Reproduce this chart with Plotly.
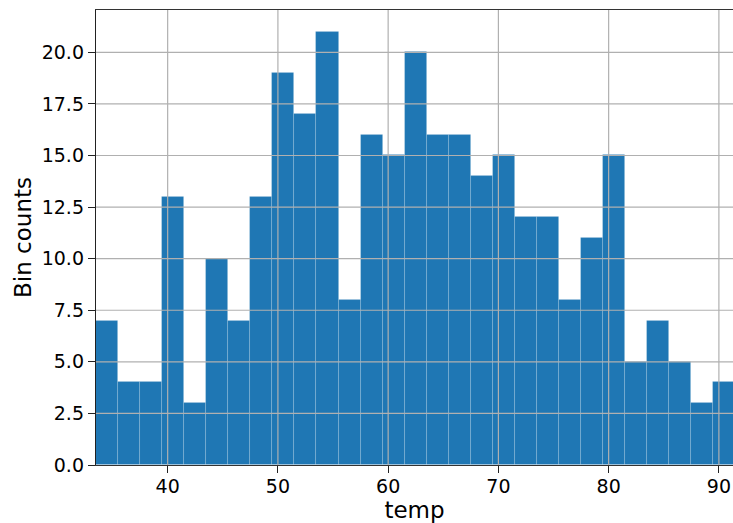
import plotly.graph_objects as go

bin_start = 33.5
bin_width = 2.0
counts = [7, 4, 4, 13, 3, 10, 7, 13, 19, 17, 21, 8, 16, 15, 20, 16, 16, 14, 15,
          12, 12, 8, 11, 15, 5, 7, 5, 3, 4]
centers = [bin_start + bin_width * (i + 0.5) for i in range(len(counts))]

x_ticks = [40, 50, 60, 70, 80, 90]
y_ticks = [0.0, 2.5, 5.0, 7.5, 10.0, 12.5, 15.0, 17.5, 20.0]
x_range = [33.5, 91.28]
y_range = [0, 22.05]

fig = go.Figure()
fig.add_trace(go.Bar(
    x=centers, y=counts, width=bin_width,
    marker=dict(color="#1f77b4", line=dict(color="rgba(255,255,255,0.18)", width=0.8)),
    showlegend=False,
))

grid_color = "#b0b0b0"
shapes = []
for t in x_ticks:
    shapes.append(dict(type="line", xref="x", yref="paper", x0=t, x1=t, y0=0, y1=1,
                       line=dict(color=grid_color, width=1.2), layer="above"))
for t in y_ticks[1:]:
    shapes.append(dict(type="line", xref="paper", yref="y", x0=0, x1=1, y0=t, y1=t,
                       line=dict(color=grid_color, width=1.2), layer="above"))

font = "DejaVu Sans"
fig.update_layout(
    width=733, height=523,
    margin=dict(l=96, r=0, t=10, b=58, autoexpand=False),
    plot_bgcolor="white", paper_bgcolor="white",
    shapes=shapes,
    bargap=0,
    font=dict(family=font, color="black"),
    xaxis=dict(
        range=x_range, tickvals=x_ticks, showgrid=False, zeroline=False,
        showline=True, linecolor="#333", linewidth=1.4, mirror=True,
        ticks="outside", ticklen=7, tickwidth=1.2, tickcolor="#222",
        tickfont=dict(size=19, family=font), automargin=False, ticklabelstandoff=-3,
        title=dict(text="temp", font=dict(size=23, family=font), standoff=9),
        layer="above traces",
    ),
    yaxis=dict(
        range=y_range, tickvals=y_ticks, tickformat=".1f", showgrid=False, zeroline=False,
        showline=True, linecolor="#222", linewidth=1.4,
        ticks="outside", ticklen=7, tickwidth=1.2, tickcolor="#222",
        tickfont=dict(size=19, family=font), automargin=False,
        title=dict(text="Bin counts", font=dict(size=23, family=font), standoff=3),
        layer="above traces",
    ),
)

fig.write_html("out.html", config={"displayModeBar": False},
               post_script="document.body.style.margin='0px';document.body.style.overflow='hidden';")
